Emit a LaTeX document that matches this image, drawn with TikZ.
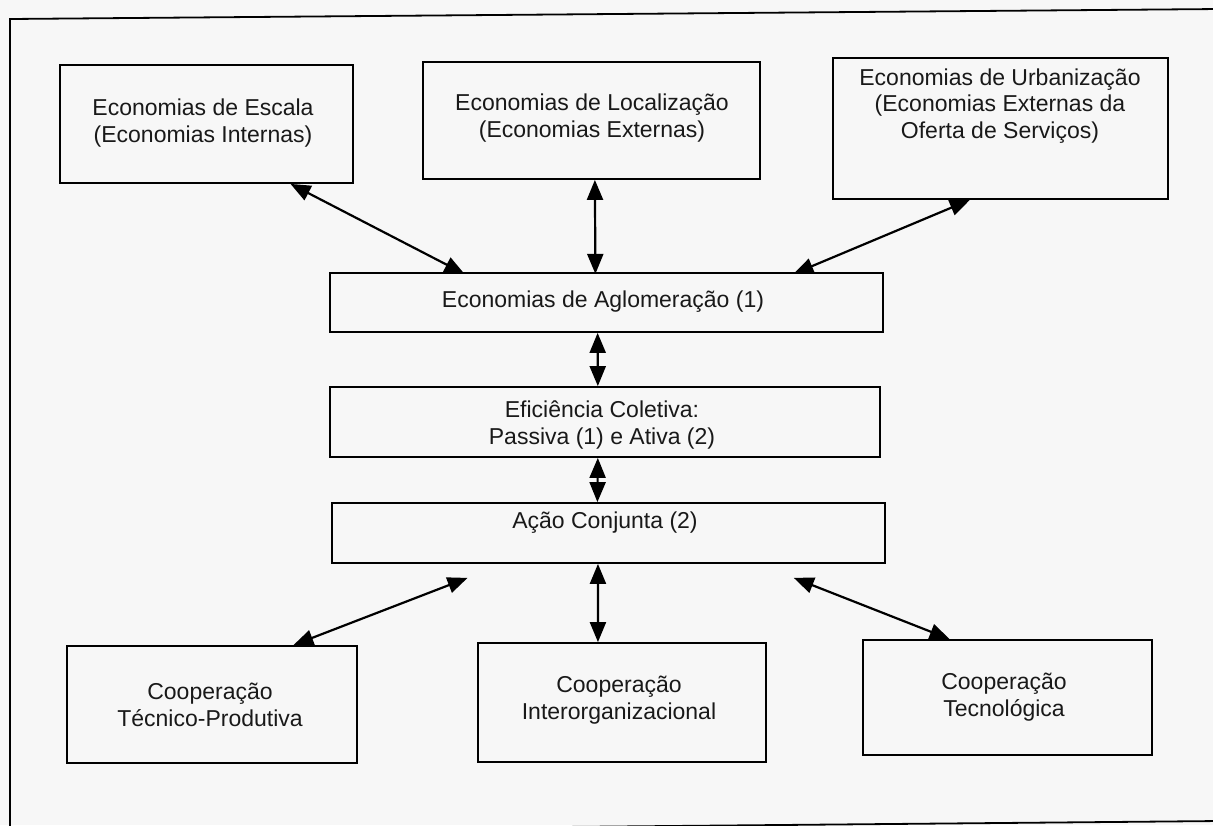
\documentclass[tikz,border=0pt]{standalone}
\usepackage{fontspec}
\setmainfont{Liberation Sans}
\usetikzlibrary{arrows.meta,calc}
\begin{document}
\begin{tikzpicture}[x=1pt,y=-1pt,
  box/.style={draw=black,line width=1.8pt,rectangle,inner sep=0pt},
  txt/.style={align=center,inner sep=0pt,font=\fontsize{23}{26.5}\selectfont,text=black!90},
  link/.style={line width=2.2pt,{Triangle[length=20pt,width=16pt]}-{Triangle[length=20pt,width=16pt]}}]
\useasboundingbox (0,0) rectangle (1213,825);
\clip (0,0) rectangle (1213,825);
\fill[white!97!black] (0,0) rectangle (1213,825);
% frame
\draw[line width=1.8pt] (1220,9) -- (10,19) -- (10,832) -- (1220,821);
% boxes
\node[box,minimum width=293pt,minimum height=118pt] (b1) at (206.5,124) {};
\node[box,minimum width=337pt,minimum height=117pt] (b2) at (591.5,120.5) {};
\node[box,minimum width=335pt,minimum height=141pt] (b3) at (1000.5,128.5) {};
\node[box,minimum width=553pt,minimum height=59pt] (ag) at (606.5,302.5) {};
\node[box,minimum width=550pt,minimum height=70pt] (ef) at (605,422) {};
\node[box,minimum width=553pt,minimum height=60pt] (ac) at (608.5,533) {};
\node[box,minimum width=290pt,minimum height=117pt] (t1) at (212,704.5) {};
\node[box,minimum width=288pt,minimum height=119pt] (t2) at (622,702.5) {};
\node[box,minimum width=289pt,minimum height=115pt] (t3) at (1007.5,697.5) {};
% texts
\node[txt] (b1t) at (203,123) {Economias de Escala\\(Economias Internas)};
\node[txt] (b2t) at (592,118) {Economias de Localização\\(Economias Externas)};
\node[txt] (b3t) at (1000,106) {Economias de Urbanização\\(Economias Externas da\\Oferta de Serviços)};
\node[txt] (agt) at (603,302) {Economias de Aglomeração (1)};
\node[txt] (eft) at (602,425) {Eficiência Coletiva:\\Passiva (1) e Ativa (2)};
\node[txt] (act) at (605,523) {Ação Conjunta (2)};
\node[txt] (t1t) at (210,705) {Cooperação\\Técnico-Produtiva};
\node[txt] (t2t) at (619,700) {Cooperação\\Interorganizacional};
\node[txt] (t3t) at (1004,697) {Cooperação\\Tecnológica};
% connectors
\draw[link] ($(b1.south west)!0.785!(b1.south east)$) -- ($(ag.south west)!0.244!(ag.south east)+(0,-59)$);
\draw[link] ($(b2.south west)!0.51!(b2.south east)$) -- ($(ag.south west)!0.480!(ag.south east)+(0,-59)$);
\draw[link] ($(b3.south west)!0.409!(b3.south east)$) -- ($(ag.south west)!0.837!(ag.south east)+(0,-59)$);
\draw[link] ($(ag.south west)!0.484!(ag.south east)$) -- ($(ef.north west)!0.487!(ef.north east)$);
\draw[link] ($(ef.south west)!0.487!(ef.south east)$) -- ($(ac.north west)!0.480!(ac.north east)$);
\draw[link] ($(ac.south west)!0.246!(ac.south east)+(0,14)$) -- ($(t1.north west)!0.779!(t1.north east)$);
\draw[link] ($(ac.south west)!0.481!(ac.south east)$) -- ($(t2.north west)!0.417!(t2.north east)$);
\draw[link] ($(ac.south west)!0.834!(ac.south east)+(0,14)$) -- ($(t3.north west)!0.301!(t3.north east)$);
\end{tikzpicture}
\end{document}
